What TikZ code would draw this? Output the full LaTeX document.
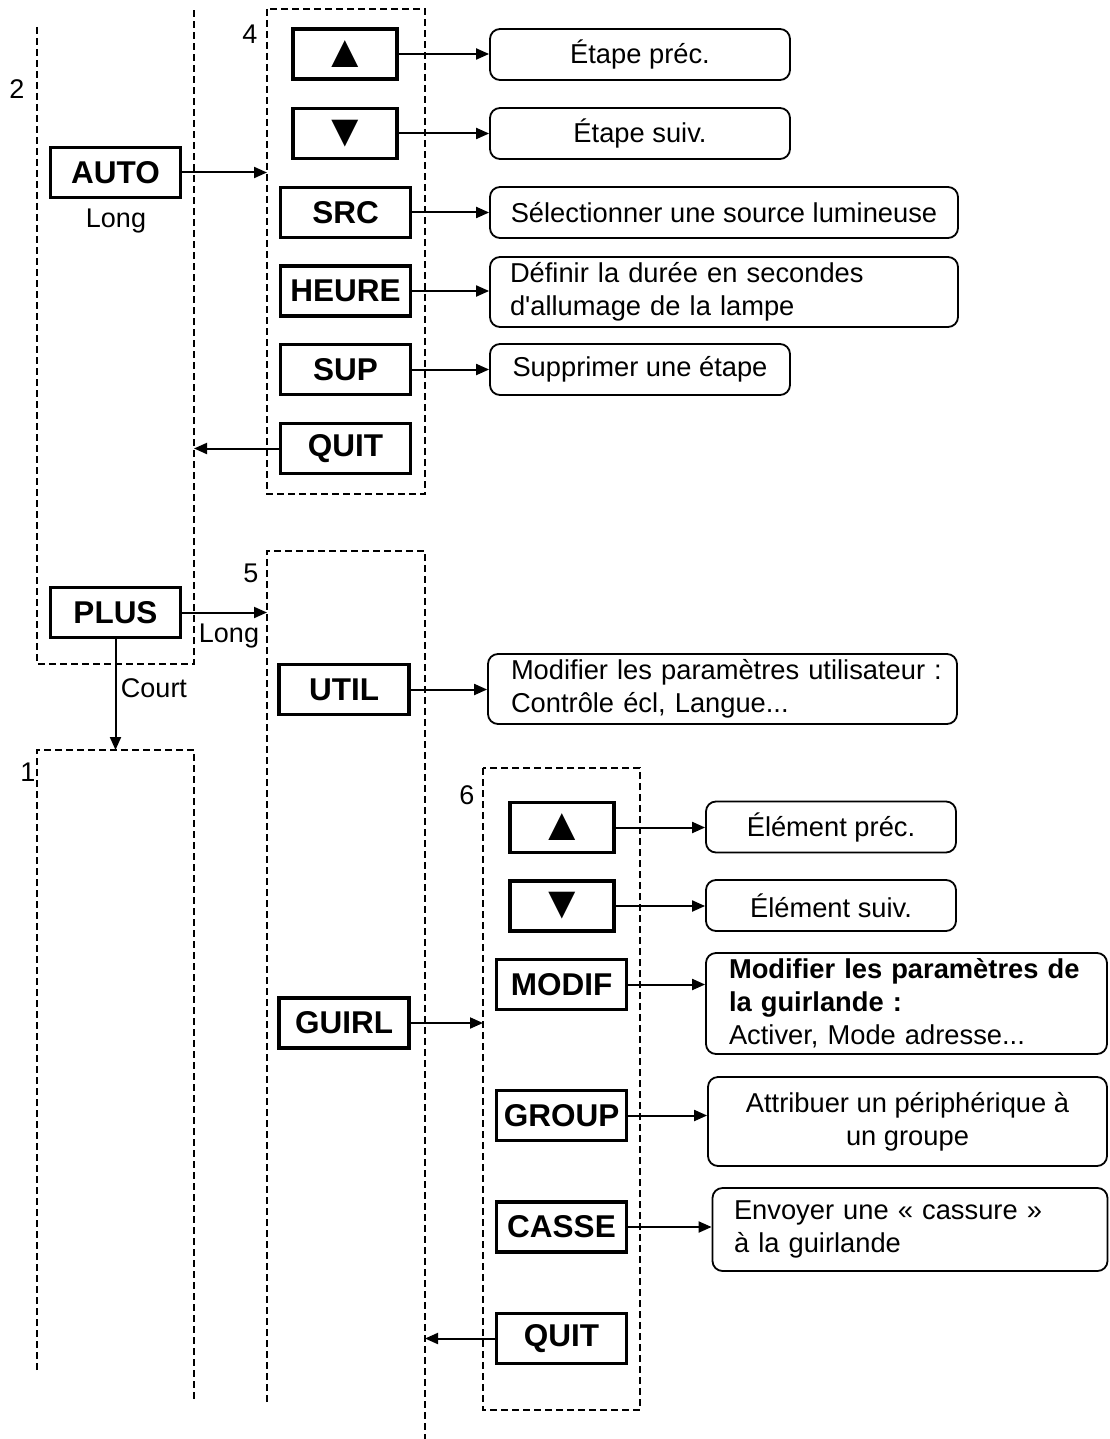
\documentclass[tikz,border=0pt]{standalone}
\usepackage{fontspec}
\setmainfont{Liberation Sans}
\usetikzlibrary{arrows.meta}
\begin{document}
\begin{tikzpicture}[x=1pt,y=-1pt,
  btn/.style={draw, line width=3.2pt, font=\fontsize{31.5}{36}\selectfont\bfseries, inner sep=0pt, minimum height=50pt, minimum width=130pt},
  arrowbtn/.style={btn, font=\fontsize{46}{50}\selectfont, minimum width=104pt},
  desc/.style={draw, line width=1.8pt, rounded corners=10pt, font=\fontsize{27.3}{33}\selectfont, inner sep=0pt, minimum height=51pt},
  zone/.style={line width=1.8pt, dash pattern=on 7pt off 4pt},
  arr/.style={line width=2pt, -{Triangle[length=13pt,width=11pt]}},
  lbl/.style={font=\fontsize{27}{33}\selectfont, inner sep=0pt}
]
\fill[white] (0,0) rectangle (1109,1439);
\useasboundingbox (0,0) rectangle (1109,1439);

% zones
\draw[zone] (37,27) -- (37,664) -- (194,664) -- (194,8);
\draw[zone] (267,9) rectangle (425,494);
\draw[zone] (267,1402) -- (267,551) -- (425,551) -- (425,1439);
\draw[zone] (483,768) rectangle (640,1410);
\draw[zone] (37,1370) -- (37,750) -- (194,750) -- (194,1400);

% zone numbers
\node[lbl] (n2) at (17,89) {2};
\node[lbl] (n4) at (250,34) {4};
\node[lbl] (n5) at (251,573) {5};
\node[lbl] (n1) at (28,772) {1};
\node[lbl] (n6) at (467,795) {6};

% zone entry points
\coordinate (z4in) at (267,172.5);
\coordinate (z2back) at (194,448.5);
\coordinate (z5in) at (267,612.5);
\coordinate (z1in) at (115.5,750);
\coordinate (z6in) at (483,1023);
\coordinate (z5back) at (425,1338.5);

% buttons
\node[btn] (auto) at (115.5,172.5) {AUTO};
\node[btn] (plus) at (115.5,612.5) {PLUS};
\node[arrowbtn] (up4) at (345,54) {▲};
\node[arrowbtn] (dn4) at (345,133.5) {▼};
\node[btn] (src) at (345.5,212.5) {SRC};
\node[btn] (heure) at (345.5,291) {HEURE};
\node[btn] (sup) at (345.5,369.5) {SUP};
\node[btn] (quit4) at (345.5,448.5) {QUIT};
\node[btn] (util) at (344,689.5) {UTIL};
\node[btn] (guirl) at (344,1023) {GUIRL};
\node[arrowbtn] (up6) at (562,827.5) {▲};
\node[arrowbtn] (dn6) at (562,906) {▼};
\node[btn] (modif) at (561.5,984.5) {MODIF};
\node[btn] (group) at (561.5,1115.5) {GROUP};
\node[btn] (casse) at (561.5,1227) {CASSE};
\node[btn] (quit6) at (561.5,1338.5) {QUIT};

% labels
\node[lbl, anchor=base] (llong1) at (116,228) {Long};
\node[lbl, anchor=base] (llong2) at (229,642) {Long};
\node[lbl, anchor=base] (lcourt) at (154,697) {Court};

% descriptions
\node[desc, minimum width=300pt] (d1) at (640,54.5) {Étape préc.};
\node[desc, minimum width=300pt] (d2) at (640,133.5) {Étape suiv.};
\node[desc, minimum width=468pt] (d3) at (724,212.5) {Sélectionner une source lumineuse};
\node[desc, minimum width=468pt, minimum height=70pt, align=left, text width=428pt] (d4) at (724,292)
  {\mbox{Définir la durée en secondes}\\\mbox{d\textquotesingle allumage de la lampe}};
\node[desc, minimum width=300pt] (d5) at (640,369.5) {Supprimer une étape};
\node[desc, minimum width=469pt, minimum height=70pt, align=left, text width=423pt] (d6) at (722.5,689)
  {\mbox{Modifier les paramètres utilisateur :}\\\mbox{Contrôle écl, Langue...}};
\node[desc, minimum width=250pt] (d7) at (831,827) {Élément préc.};
\node[desc, minimum width=250pt] (d8) at (831,905.5) {Élément suiv.};
\node[desc, minimum width=401pt, minimum height=101pt, align=left, text width=355pt] (d9) at (906.5,1003.5)
  {\mbox{\textbf{Modifier les paramètres de}}\\\mbox{\textbf{la guirlande :}}\\\mbox{Activer, Mode adresse...}};
\node[desc, minimum width=399pt, minimum height=89pt, align=center] (d10) at (907.5,1121.5)
  {Attribuer un périphérique à\\un groupe};
\node[desc, minimum width=395pt, minimum height=83pt, align=left, text width=352pt] (d11) at (910,1229.5)
  {\mbox{Envoyer une « cassure »}\\\mbox{à la guirlande}};

% connectors
\draw[arr] (auto.east) -- (z4in);
\draw[arr] (quit4.west) -- (z2back);
\draw[arr] (plus.east) -- (z5in);
\draw[arr] (plus.south) -- (z1in);
\draw[arr] (guirl.east) -- (z6in);
\draw[arr] (quit6.west) -- (z5back);

\draw[arr] (up4.east) -- (up4.east -| d1.west);
\draw[arr] (dn4.east) -- (dn4.east -| d2.west);
\draw[arr] (src.east) -- (src.east -| d3.west);
\draw[arr] (heure.east) -- (heure.east -| d4.west);
\draw[arr] (sup.east) -- (sup.east -| d5.west);
\draw[arr] (util.east) -- (util.east -| d6.west);
\draw[arr] (up6.east) -- (up6.east -| d7.west);
\draw[arr] (dn6.east) -- (dn6.east -| d8.west);
\draw[arr] (modif.east) -- (modif.east -| d9.west);
\draw[arr] (group.east) -- (group.east -| d10.west);
\draw[arr] (casse.east) -- (casse.east -| d11.west);
\end{tikzpicture}
\end{document}
